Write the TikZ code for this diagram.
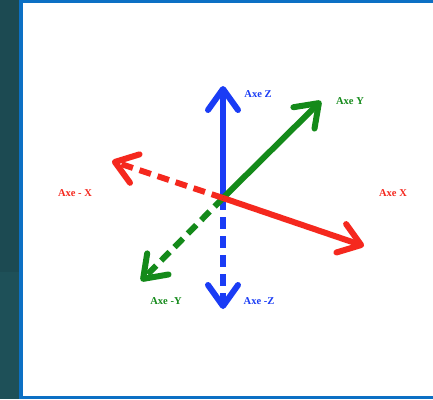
\documentclass[tikz,border=0pt]{standalone}
\usepackage{fontspec}
\setmainfont{Liberation Serif}
\usetikzlibrary{arrows.meta}
\definecolor{axeblue}{RGB}{26,60,245}
\definecolor{axegreen}{RGB}{20,138,26}
\definecolor{axered}{RGB}{245,40,30}
\definecolor{panelblue}{RGB}{12,112,196}
\definecolor{darkteal}{RGB}{28,74,82}
\definecolor{lightteal}{RGB}{30,80,88}
\begin{document}
\begin{tikzpicture}[x=1pt,y=-1pt,
    axe/.style={line width=6pt,-{Straight Barb[length=21pt,width=30pt,round]}},
    axeneg/.style={axe,dash pattern=on 12pt off 7pt},
    lab/.style={font=\bfseries\fontsize{10.5}{11}\selectfont}]
            \useasboundingbox (0,0) rectangle (433,399);
            % fond et cadre
            \fill[darkteal] (0,0) rectangle (20,272);
            \fill[lightteal] (0,272) rectangle (20,399);
            \fill[panelblue] (19,0) rectangle (433,399);
            \fill[white] (23,3) rectangle (433,396);
            % axes
            \coordinate (O) at (223,198);
            \coordinate (zp) at (223,86);
            \coordinate (zm) at (223,309);
            \coordinate (yp) at (321,101);
            \coordinate (ym) at (141,281);
            \coordinate (xp) at (364,246);
            \coordinate (xm) at (112,161);
            \draw[axe,axeblue] (O) -- (zp);
            \draw[axeneg,axeblue] (O) -- (zm);
            \draw[axe,axegreen] (O) -- (yp);
            \draw[axeneg,axegreen] (O) -- (ym);
            \draw[axe,axered] (O) -- (xp);
            \draw[axeneg,axered] (O) -- (xm);
            % etiquettes
            \node[lab,axeblue] (lzp) at (258,94) {Axe Z};
            \node[lab,axeblue] (lzm) at (259,301) {Axe -Z};
            \node[lab,axegreen] (lyp) at (350,101) {Axe Y};
            \node[lab,axegreen] (lym) at (166,301) {Axe -Y};
            \node[lab,axered] (lxp) at (393,193) {Axe X};
            \node[lab,axered] (lxm) at (75,193) {Axe - X};
        \end{tikzpicture}
\end{document}
